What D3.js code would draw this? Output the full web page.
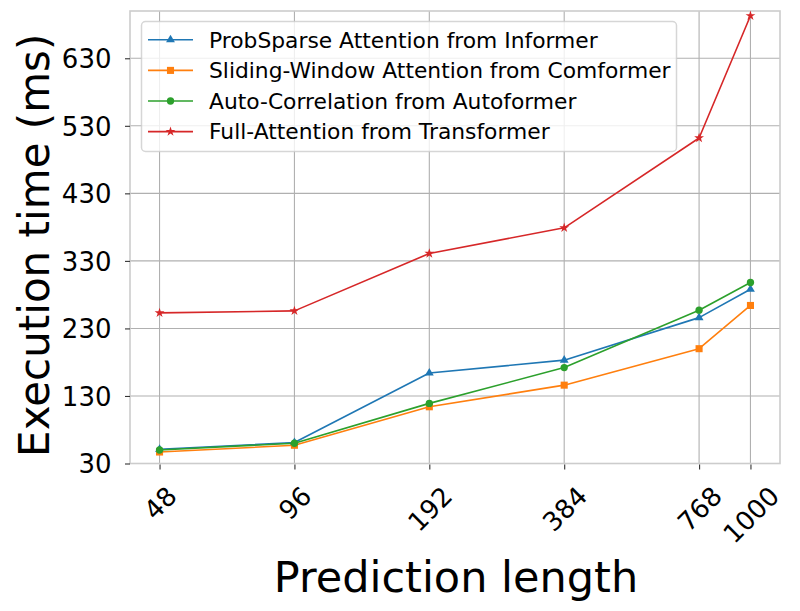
<!DOCTYPE html>
<html>
<head>
<meta charset="utf-8">
<script src="https://cdn.jsdelivr.net/npm/d3@7"></script>
<style>
  html, body { margin: 0; padding: 0; background: #fff; }
  svg { display: block; }
  text { font-family: "DejaVu Sans", sans-serif; fill: #000; }
</style>
</head>
<body>
<svg id="chart" width="800" height="611"></svg>
<script>
// ---- data ----
const predictionLengths = [48, 96, 192, 384, 768, 1000];
const yTicks = [30, 130, 230, 330, 430, 530, 630];
const seriesNames = [
  "ProbSparse Attention from Informer",
  "Sliding-Window Attention from Comformer",
  "Auto-Correlation from Autoformer",
  "Full-Attention from Transformer"
];
const probSparse    = [51, 61, 164, 183, 246, 288];
const slidingWindow = [47, 57, 114, 146, 200, 264];
const autoCorr      = [50, 60, 119, 172, 257, 298];
const fullAttention = [253, 256, 341, 379, 512, 693];
const seriesColors = ["#1f77b4", "#ff7f0e", "#2ca02c", "#d62728"];
const seriesMarkers = ["triangle", "square", "circle", "star"];

const seriesValues = [probSparse, slidingWindow, autoCorr, fullAttention];

// ---- layout ----
const svg = d3.select("#chart");
const plot = { left: 130, right: 780, top: 11, bottom: 463.5 };

const lMin = Math.log2(d3.min(predictionLengths));
const lMax = Math.log2(d3.max(predictionLengths));
const pad = (lMax - lMin) * 0.05;
const x = d3.scaleLog().base(2)
  .domain([Math.pow(2, lMin - pad), Math.pow(2, lMax + pad)])
  .range([plot.left, plot.right]);
const y = d3.scaleLinear().domain([30, 700]).range([plot.bottom, plot.top]);

// grid
const grid = svg.append("g");
grid.selectAll("line.gx").data(predictionLengths).join("line")
  .attr("x1", d => x(d)).attr("x2", d => x(d))
  .attr("y1", plot.top).attr("y2", plot.bottom)
  .attr("stroke", "#b0b0b0").attr("stroke-width", 1.1);
grid.selectAll("line.gy").data(yTicks).join("line")
  .attr("x1", plot.left).attr("x2", plot.right)
  .attr("y1", d => y(d)).attr("y2", d => y(d))
  .attr("stroke", "#b0b0b0").attr("stroke-width", 1.1);

// spines
svg.append("rect")
  .attr("x", plot.left).attr("y", plot.top)
  .attr("width", plot.right - plot.left).attr("height", plot.bottom - plot.top)
  .attr("fill", "none").attr("stroke", "#cccccc").attr("stroke-width", 1.6);

// x axis
const xAxis = d3.axisBottom(x).tickValues(predictionLengths)
  .tickFormat(d3.format("d")).tickSize(5).tickPadding(0);
const gx = svg.append("g").attr("transform", `translate(0,${plot.bottom + 1})`).call(xAxis);
gx.select(".domain").remove();
gx.selectAll(".tick line").attr("stroke", "#333").attr("stroke-width", 1.1);
gx.selectAll(".tick text")
  .style("font-family", "DejaVu Sans").style("font-size", "26px")
  .attr("fill", "#000")
  .attr("text-anchor", "middle")
  .attr("y", 0).attr("dy", "0.36em")
  .each(function() {
    const t = d3.select(this);
    const w = this.getComputedTextLength();
    const h = 29;
    const cy = 481 - plot.bottom - 1 + (w + h) * 0.3535;
    t.attr("transform", `translate(0,${cy}) rotate(-45)`);
  });

// y axis
const yAxis = d3.axisLeft(y).tickValues(yTicks).tickSize(5).tickPadding(13.5);
const gy = svg.append("g").attr("transform", `translate(${plot.left},0)`).call(yAxis);
gy.select(".domain").remove();
gy.selectAll(".tick line").attr("stroke", "#333").attr("stroke-width", 1.1);
gy.selectAll(".tick text")
  .style("font-family", "DejaVu Sans").style("font-size", "26px")
  .attr("fill", "#000").attr("dy", "0.36em");

// axis labels
svg.append("text")
  .attr("x", (plot.left + plot.right) / 2 + 1).attr("y", 592)
  .attr("text-anchor", "middle").style("font-size", "43px")
  .text("Prediction length");
svg.append("text")
  .attr("transform", `translate(49,${(plot.top + plot.bottom) / 2 + 8}) rotate(-90)`)
  .attr("text-anchor", "middle").style("font-size", "42px")
  .text("Execution time (ms)");

// marker drawing
const symbolFor = {
  triangle: d3.symbol().type(d3.symbolTriangle).size(34),
  square: d3.symbol().type(d3.symbolSquare).size(50),
  circle: d3.symbol().type(d3.symbolCircle).size(42),
  star: d3.symbol().type(d3.symbolStar).size(30)
};

const line = d3.line().x(d => x(d[0])).y(d => y(d[1]));
seriesValues.forEach((vals, i) => {
  const pts = predictionLengths.map((p, j) => [p, vals[j]]);
  const g = svg.append("g");
  g.append("path").datum(pts)
    .attr("d", line).attr("fill", "none")
    .attr("stroke", seriesColors[i]).attr("stroke-width", 1.6)
    .attr("stroke-linejoin", "round");
  g.selectAll("path.m").data(pts).join("path")
    .attr("class", "m")
    .attr("transform", d => `translate(${x(d[0])},${y(d[1])})`)
    .attr("d", symbolFor[seriesMarkers[i]]())
    .attr("fill", seriesColors[i]);
});

// legend
const legend = svg.append("g");
legend.append("rect")
  .attr("x", 141.5).attr("y", 21.5).attr("width", 535).attr("height", 130)
  .attr("rx", 4).attr("ry", 4)
  .attr("fill", "rgba(255,255,255,0.8)")
  .attr("stroke", "rgba(204,204,204,0.8)").attr("stroke-width", 1.5);
seriesNames.forEach((name, i) => {
  const cy = 39.8 + i * 30.6;
  legend.append("line")
    .attr("x1", 148).attr("x2", 193).attr("y1", cy).attr("y2", cy)
    .attr("stroke", seriesColors[i]).attr("stroke-width", 1.6);
  legend.append("path")
    .attr("transform", `translate(170.5,${cy})`)
    .attr("d", symbolFor[seriesMarkers[i]]())
    .attr("fill", seriesColors[i]);
  legend.append("text")
    .attr("x", 209).attr("y", cy).attr("dy", "0.36em")
    .style("font-size", "21.8px")
    .text(name);
});
</script>
</body>
</html>
